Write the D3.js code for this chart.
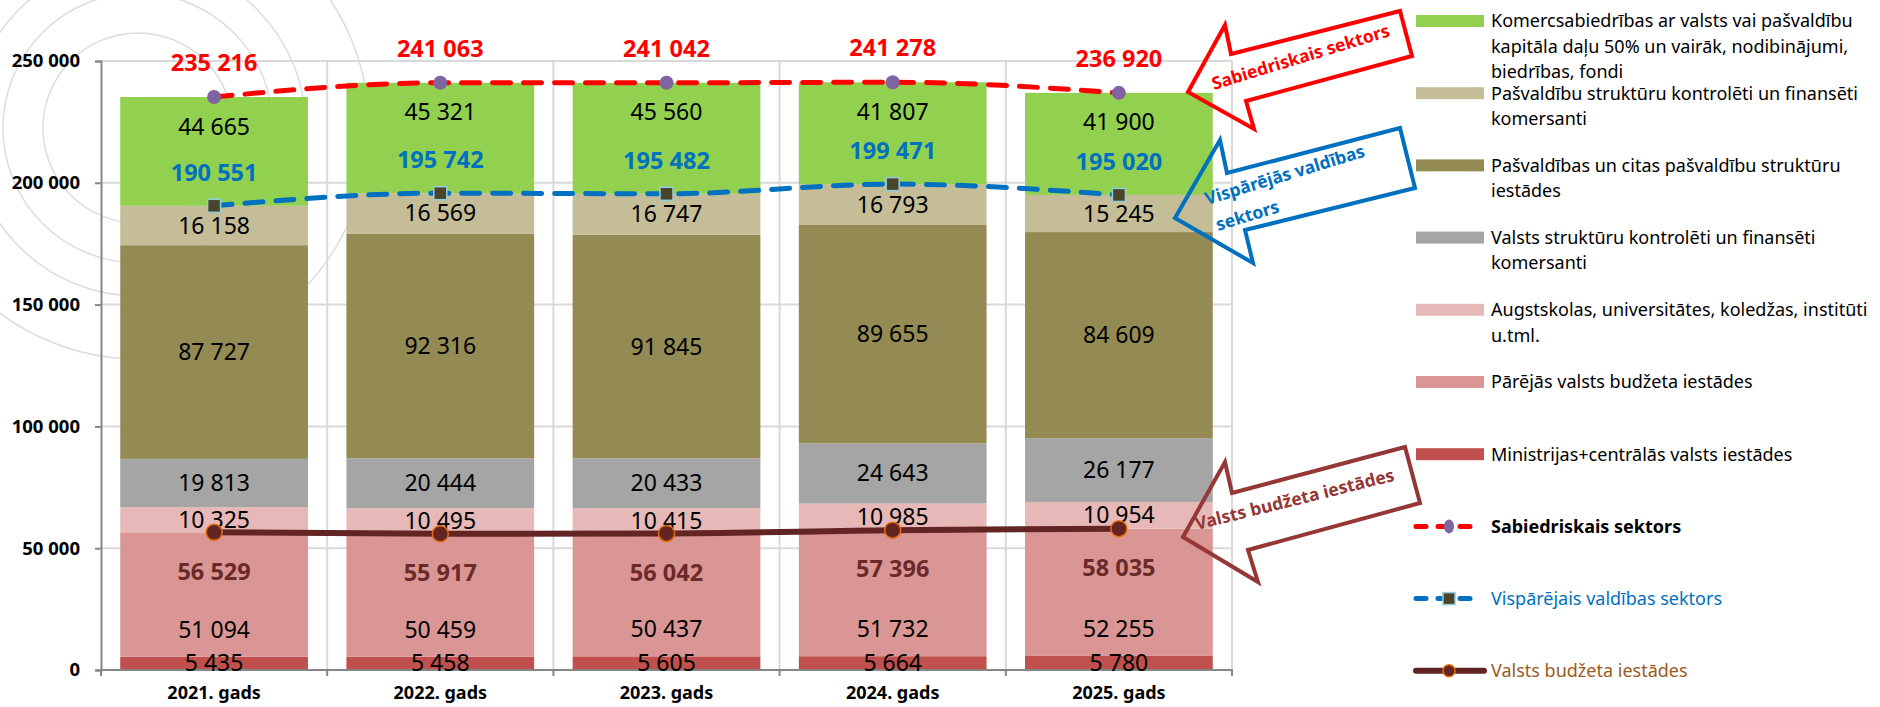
<!DOCTYPE html>
<html lang="lv">
<head>
<meta charset="utf-8">
<title>Nodarbināto skaits sabiedriskajā sektorā</title>
<style>
  body { margin: 0; background: #fff; }
  svg text { font-family: "Noto Sans", "Open Sans", sans-serif; }
</style>
</head>
<body>
<svg id="chart" width="1880" height="707"></svg>

<script src="https://cdnjs.cloudflare.com/ajax/libs/d3/7.8.5/d3.min.js"></script>
<script>
// ---- data ----
var years = ["2021. gads", "2022. gads", "2023. gads", "2024. gads", "2025. gads"];

var ministrijas       = [5435, 5458, 5605, 5664, 5780];
var parejas           = [51094, 50459, 50437, 51732, 52255];
var augstskolas       = [10325, 10495, 10415, 10985, 10954];
var valstsKomersanti  = [19813, 20444, 20433, 24643, 26177];
var pasvaldibas       = [87727, 92316, 91845, 89655, 84609];
var pasvKomersanti    = [16158, 16569, 16747, 16793, 15245];
var komercsabiedribas = [44665, 45321, 45560, 41807, 41900];

var sabiedriskais = [235216, 241063, 241042, 241278, 236920];
var visparejais   = [190551, 195742, 195482, 199471, 195020];
var valstsBudzeta = [56529, 55917, 56042, 57396, 58035];

var yTicks = [0, 50000, 100000, 150000, 200000, 250000];

// stacked series, bottom to top
var segments = [
  { key: "min",  values: ministrijas,       color: "#C0504D", label: "center",
    legend: ["Ministrijas+centrālās valsts iestādes"] },
  { key: "par",  values: parejas,           color: "#D99694", label: "bottom",
    legend: ["Pārējās valsts budžeta iestādes"] },
  { key: "aug",  values: augstskolas,       color: "#E6B9B8", label: "center",
    legend: ["Augstskolas, universitātes, koledžas, institūti", "u.tml."] },
  { key: "vk",   values: valstsKomersanti,  color: "#A5A5A5", label: "center",
    legend: ["Valsts struktūru kontrolēti un finansēti", "komersanti"] },
  { key: "pas",  values: pasvaldibas,       color: "#948A54", label: "center",
    legend: ["Pašvaldības un citas pašvaldību struktūru", "iestādes"] },
  { key: "pk",   values: pasvKomersanti,    color: "#C4BD97", label: "center",
    legend: ["Pašvaldību struktūru kontrolēti un finansēti", "komersanti"] },
  { key: "kom",  values: komercsabiedribas, color: "#92D050", label: "top",
    legend: ["Komercsabiedrības ar valsts vai pašvaldību", "kapitāla daļu 50% un vairāk, nodibinājumi,", "biedrības, fondi"] }
];

var fmt = function (v) { return d3.format(",")(v).replace(/,/g, " "); };

var svg = d3.select("#chart");

var x = d3.scaleBand()
  .domain(years)
  .range([101, 1232])
  .paddingInner(0.17)
  .paddingOuter(0.085);

var y = d3.scaleLinear()
  .domain([0, 250000])
  .range([670, 61]);

var cx = function (i) { return x(years[i]) + x.bandwidth() / 2; };

// background decoration (faint concentric rings)
svg.append("g").selectAll("circle")
  .data([95, 135, 168, 231])
  .join("circle")
  .attr("cx", 138).attr("cy", 128).attr("r", d => d)
  .attr("fill", "none")
  .attr("stroke", "#dcdcdc")
  .attr("stroke-width", 1.5);

// gridlines
var grid = svg.append("g");
grid.selectAll("line.h")
  .data(yTicks.slice(1))
  .join("line")
  .attr("x1", 101).attr("x2", 1232)
  .attr("y1", d => y(d)).attr("y2", d => y(d))
  .attr("stroke", "#d9d9d9").attr("stroke-width", 2);

var step = x.step();
var bounds = d3.range(years.length + 1).map(i => x.range()[0] + i * step);
grid.selectAll("line.v")
  .data(bounds.slice(1))
  .join("line")
  .attr("x1", d => d).attr("x2", d => d)
  .attr("y1", y(250000)).attr("y2", y(0))
  .attr("stroke", "#d9d9d9").attr("stroke-width", 2);

// stacked bars
var rows = years.map(function (yr, i) {
  var r = { year: yr };
  segments.forEach(s => { r[s.key] = s.values[i]; });
  return r;
});
var stack = d3.stack().keys(segments.map(s => s.key))(rows);

var barG = svg.append("g");
stack.forEach(function (layer, li) {
  barG.selectAll(null)
    .data(layer)
    .join("rect")
    .attr("x", d => x(d.data.year))
    .attr("width", x.bandwidth())
    .attr("y", d => y(d[1]))
    .attr("height", d => y(d[0]) - y(d[1]))
    .attr("fill", segments[li].color);
});

// axes
var yAxis = svg.append("g")
  .attr("transform", "translate(101,0)")
  .call(d3.axisLeft(y).tickValues(yTicks).tickSize(6).tickPadding(15).tickFormat(fmt));
yAxis.select(".domain").attr("stroke", "#868686").attr("stroke-width", 2);
yAxis.selectAll(".tick line").attr("stroke", "#868686").attr("stroke-width", 2);
yAxis.selectAll(".tick text")
  .attr("font-size", 18.5).attr("font-weight", "bold").attr("fill", "#000")
  .style("font-family", "'Noto Sans', sans-serif");

svg.append("line")
  .attr("x1", 100).attr("x2", 1233)
  .attr("y1", y(0)).attr("y2", y(0))
  .attr("stroke", "#868686").attr("stroke-width", 2);
svg.append("g").selectAll("line")
  .data(bounds)
  .join("line")
  .attr("x1", d => d).attr("x2", d => d)
  .attr("y1", y(0)).attr("y2", y(0) + 6)
  .attr("stroke", "#868686").attr("stroke-width", 2);

var xAxis = svg.append("g")
  .attr("transform", "translate(0," + y(0) + ")")
  .call(d3.axisBottom(x).tickSize(0).tickPadding(16));
xAxis.select(".domain").remove();
xAxis.selectAll(".tick text")
  .attr("font-size", 18).attr("font-weight", "bold").attr("fill", "#000")
  .style("font-family", "'Noto Sans', sans-serif");

// segment labels
var labG = svg.append("g").attr("font-size", 23).attr("text-anchor", "middle");
stack.forEach(function (layer, li) {
  var s = segments[li];
  labG.selectAll(null)
    .data(layer)
    .join("text")
    .attr("x", d => x(d.data.year) + x.bandwidth() / 2)
    .attr("y", function (d) {
      if (s.label === "top") return y(d[1]) + 29.5;
      if (s.label === "bottom") return y(d[0]) - 27;
      return (y(d[0]) + y(d[1])) / 2;
    })
    .attr("dy", "0.35em")
    .attr("fill", "#000")
    .text(d => fmt(d.data[s.key]));
});

// lines
var lineGen = d3.line()
  .x((d, i) => cx(i))
  .y(d => y(d))
  .curve(d3.curveMonotoneX);

svg.append("path").datum(valstsBudzeta)
  .attr("d", lineGen).attr("fill", "none")
  .attr("stroke", "#632523").attr("stroke-width", 6);
svg.append("path").datum(visparejais)
  .attr("d", lineGen).attr("fill", "none")
  .attr("stroke", "#0070C0").attr("stroke-width", 5)
  .attr("stroke-dasharray", "18,13").attr("stroke-linecap", "round");
svg.append("path").datum(sabiedriskais)
  .attr("d", lineGen).attr("fill", "none")
  .attr("stroke", "#FF0000").attr("stroke-width", 5)
  .attr("stroke-dasharray", "18,13").attr("stroke-linecap", "round");

// markers
svg.append("g").selectAll("circle")
  .data(valstsBudzeta).join("circle")
  .attr("cx", (d, i) => cx(i)).attr("cy", d => y(d)).attr("r", 8)
  .attr("fill", "#632523").attr("stroke", "#E46C0A").attr("stroke-width", 1.5);
svg.append("g").selectAll("rect")
  .data(visparejais).join("rect")
  .attr("x", (d, i) => cx(i) - 6.5).attr("y", d => y(d) - 6.5)
  .attr("width", 13).attr("height", 13)
  .attr("fill", "#4A442A").attr("stroke", "#93CDDD").attr("stroke-width", 1.5);
svg.append("g").selectAll("circle")
  .data(sabiedriskais).join("circle")
  .attr("cx", (d, i) => cx(i)).attr("cy", d => y(d)).attr("r", 7)
  .attr("fill", "#8064A2");

// line labels
var lineLabels = [
  { values: sabiedriskais, color: "#FF0000", off: -34 },
  { values: visparejais,   color: "#0070C0", off: -33.5 },
  { values: valstsBudzeta, color: "#6B2A2A", off: 39 }
];
lineLabels.forEach(function (L) {
  svg.append("g").selectAll("text")
    .data(L.values).join("text")
    .attr("x", (d, i) => cx(i))
    .attr("y", d => y(d) + L.off)
    .attr("dy", "0.35em")
    .attr("text-anchor", "middle")
    .attr("font-size", 23.5).attr("font-weight", "bold")
    .attr("fill", L.color)
    .text(fmt);
});

// callout arrows
var callouts = [
  { color: "#FF0000", pts: [[1188, 92], [1225, 25], [1231, 54], [1400, 11], [1412, 56], [1246, 101], [1254, 129]],
    text: ["Sabiedriskais sektors"], at: [1214, 90], rot: -17, size: 17.5 },
  { color: "#0070C0", pts: [[1175, 218], [1220, 140], [1227, 173], [1400, 128], [1415, 188], [1245, 230], [1253, 263]],
    text: ["Vispārējās valdības", "sektors"], at: [1207, 205], rot: -17, size: 17.5 },
  { color: "#953735", pts: [[1183, 537], [1225, 462], [1232, 493], [1405, 447], [1420, 503], [1248, 550], [1258, 582]],
    text: ["Valsts budžeta iestādes"], at: [1197, 530], rot: -14, size: 17.5 }
];
callouts.forEach(function (c) {
  svg.append("polygon")
    .attr("points", c.pts.map(p => p.join(",")).join(" "))
    .attr("fill", "none")
    .attr("stroke", c.color).attr("stroke-width", 4)
    .attr("stroke-linejoin", "miter");
  var t = svg.append("text")
    .attr("transform", "translate(" + c.at[0] + "," + c.at[1] + ") rotate(" + c.rot + ")")
    .attr("font-size", c.size).attr("font-weight", "bold").attr("fill", c.color);
  c.text.forEach(function (line, k) {
    t.append("tspan").attr("x", k * 3).attr("y", k * 28).text(line);
  });
});

// legend
var legend = svg.append("g").attr("font-size", 18);
var legY = function (i) { return 21 + i * 72.2; };
segments.slice().reverse().forEach(function (s, i) {
  var g = legend.append("g");
  g.append("rect")
    .attr("x", 1416).attr("y", legY(i) - 6)
    .attr("width", 68).attr("height", 12)
    .attr("fill", s.color);
  s.legend.forEach(function (line, k) {
    g.append("text")
      .attr("x", 1491).attr("y", legY(i) + k * 25.5)
      .attr("dy", "0.35em").attr("fill", "#000")
      .text(line);
  });
});

var lineLegend = [
  { name: "Sabiedriskais sektors", color: "#FF0000", text: "#000", bold: true, marker: "circle" },
  { name: "Vispārējais valdības sektors", color: "#0070C0", text: "#0070C0", bold: false, marker: "square" },
  { name: "Valsts budžeta iestādes", color: "#632523", text: "#9A5A1C", bold: false, marker: "dot" }
];
lineLegend.forEach(function (L, j) {
  var yy = legY(7 + j);
  var g = legend.append("g");
  var ln = g.append("line")
    .attr("x1", 1416).attr("x2", L.marker === "dot" ? 1484 : 1479)
    .attr("y1", yy).attr("y2", yy)
    .attr("stroke", L.color)
    .attr("stroke-width", L.marker === "dot" ? 6 : 5)
    .attr("stroke-linecap", "round");
  if (L.marker !== "dot") ln.attr("stroke-dasharray", "10,12");
  if (L.marker === "circle") {
    g.append("ellipse").attr("cx", 1449).attr("cy", yy).attr("rx", 5).attr("ry", 7).attr("fill", "#8064A2");
  } else if (L.marker === "square") {
    g.append("rect").attr("x", 1443).attr("y", yy - 6).attr("width", 12).attr("height", 12)
      .attr("fill", "#4A442A").attr("stroke", "#93CDDD").attr("stroke-width", 1.5);
  } else {
    g.append("circle").attr("cx", 1449).attr("cy", yy).attr("r", 6)
      .attr("fill", "#632523").attr("stroke", "#E46C0A").attr("stroke-width", 1.5);
  }
  g.append("text")
    .attr("x", 1491).attr("y", yy).attr("dy", "0.35em")
    .attr("fill", L.text)
    .attr("font-weight", L.bold ? "bold" : null)
    .text(L.name);
});
</script>
</body>
</html>
